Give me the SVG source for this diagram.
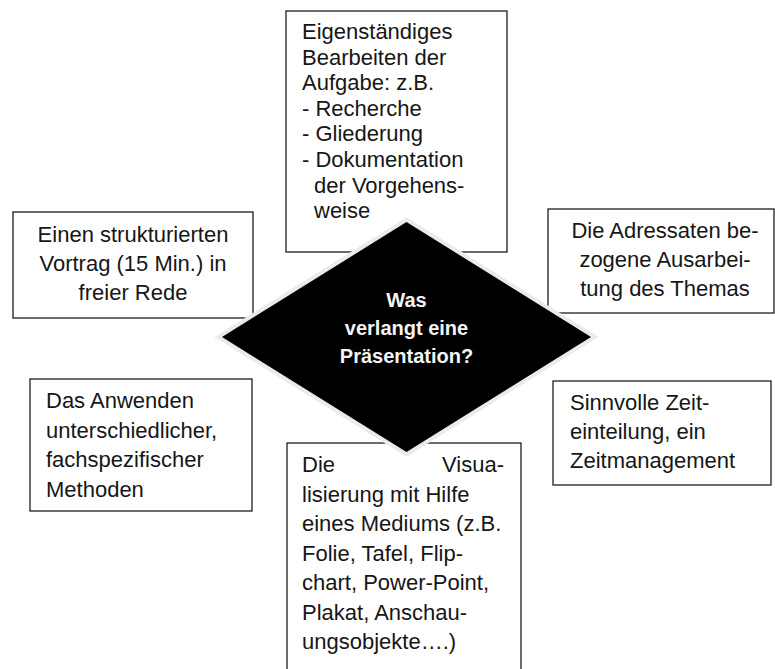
<svg xmlns="http://www.w3.org/2000/svg" width="775" height="669" viewBox="0 0 775 669">
<style>
.box{fill:#fff;stroke:#1e1e1e;stroke-width:1.3}
.t{font-family:"Liberation Sans",Arial,sans-serif;font-size:22px;fill:#161616}
.c{text-anchor:middle}
.d{font-family:"Liberation Sans",Arial,sans-serif;font-size:20px;font-weight:bold;fill:#f4f4f4;text-anchor:middle}
</style>
<rect width="775" height="669" fill="#fff"/>
<g id="node-eigenstaendig">
<rect class="box" x="286" y="11" width="221" height="241"/>
<text class="t" x="302" y="39">Eigenständiges</text>
<text class="t" x="302" y="64.6">Bearbeiten der</text>
<text class="t" x="302" y="90.2">Aufgabe: z.B.</text>
<text class="t" x="302" y="115.8">- Recherche</text>
<text class="t" x="302" y="141.4">- Gliederung</text>
<text class="t" x="302" y="167">- Dokumentation</text>
<text class="t" x="314" y="192.6">der Vorgehens-</text>
<text class="t" x="314" y="218.2">weise</text>
</g>
<g id="node-vortrag">
<rect class="box" x="13" y="212" width="240" height="106"/>
<text class="t c" x="133" y="242">Einen strukturierten</text>
<text class="t c" x="133" y="271">Vortrag (15 Min.) in</text>
<text class="t c" x="133" y="300">freier Rede</text>
</g>
<g id="node-adressaten">
<rect class="box" x="548" y="209" width="226" height="104"/>
<text class="t c" x="665" y="238">Die Adressaten be-</text>
<text class="t c" x="665" y="267">zogene Ausarbei-</text>
<text class="t c" x="665" y="296">tung des Themas</text>
</g>
<g id="node-methoden">
<rect class="box" x="30" y="379" width="222" height="132"/>
<text class="t" x="46" y="408">Das Anwenden</text>
<text class="t" x="46" y="437.5">unterschiedlicher,</text>
<text class="t" x="46" y="467">fachspezifischer</text>
<text class="t" x="46" y="496.5">Methoden</text>
</g>
<g id="node-zeit">
<rect class="box" x="553" y="381" width="218" height="104"/>
<text class="t" x="570" y="410">Sinnvolle Zeit-</text>
<text class="t" x="570" y="439">einteilung, ein</text>
<text class="t" x="570" y="468">Zeitmanagement</text>
</g>
<g id="node-visualisierung">
<rect class="box" x="287" y="443" width="234" height="240"/>
<text class="t" x="302" y="472">Die</text>
<text class="t" x="504" y="472" text-anchor="end">Visua-</text>
<text class="t" x="302" y="501.5">lisierung mit Hilfe</text>
<text class="t" x="302" y="531">eines Mediums (z.B.</text>
<text class="t" x="302" y="560.5">Folie, Tafel, Flip-</text>
<text class="t" x="302" y="590">chart, Power-Point,</text>
<text class="t" x="302" y="619.5">Plakat, Anschau-</text>
<text class="t" x="302" y="649">ungsobjekte….)</text>
</g>
<g id="node-center">
<polygon points="406.5,222 591,337 406.5,452 222,337" fill="none" stroke="#ebebeb" stroke-width="8"/>
<polygon points="406.5,222 591,337 406.5,452 222,337" fill="#000"/>
<text class="d" x="406.5" y="307">Was</text>
<text class="d" x="406.5" y="335">verlangt eine</text>
<text class="d" x="406.5" y="363">Präsentation?</text>
</g>
<g id="connectors"/>
</svg>
